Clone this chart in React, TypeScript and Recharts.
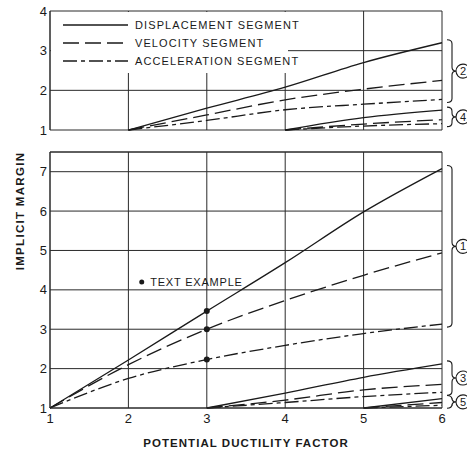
import React from "react";
import {
  LineChart,
  Line,
  XAxis,
  YAxis,
  CartesianGrid,
  Legend,
  ReferenceLine,
  ReferenceDot,
} from "recharts";

// potential ductility factor
const X = [1, 2, 3, 4, 5, 6];

// upper panel, group 2
const DISP_2 = [null, 1, 1.55, 2.08, 2.7, 3.2];
const VEL_2 = [null, 1, 1.38, 1.76, 2.03, 2.25];
const ACC_2 = [null, 1, 1.24, 1.51, 1.65, 1.77];
// upper panel, group 4
const DISP_4 = [null, null, null, 1, 1.31, 1.5];
const VEL_4 = [null, null, null, 1, 1.15, 1.26];
const ACC_4 = [null, null, null, 1, 1.1, 1.16];

// lower panel, group 1
const DISP_1 = [1, 2.22, 3.46, 4.69, 5.98, 7.08];
const VEL_1 = [1, 2.1, 3.0, 3.73, 4.37, 4.94];
const ACC_1 = [1, 1.75, 2.23, 2.59, 2.89, 3.13];
// lower panel, group 3
const DISP_3 = [null, null, 1, 1.38, 1.78, 2.12];
const VEL_3 = [null, null, 1, 1.2, 1.46, 1.6];
const ACC_3 = [null, null, 1, 1.14, 1.29, 1.4];
// lower panel, group 5
const DISP_5 = [null, null, null, null, 1, 1.24];
const VEL_5 = [null, null, null, null, 1, 1.14];
const ACC_5 = [null, null, null, null, 1, 1.07];

const TOP_TICKS = [1, 2, 3, 4];
const BOTTOM_TICKS = [1, 2, 3, 4, 5, 6, 7];
const BOTTOM_MAX = 7.5;
const LEGEND_LABELS = ["DISPLACEMENT SEGMENT", "VELOCITY SEGMENT", "ACCELERATION SEGMENT"];
const EXAMPLE_LABEL = "TEXT EXAMPLE";
const EXAMPLE_POINT = { x: 2.17, y: 4.2 };

const INK = "#1a1a1a";
const GRID = "#2a2a2a";
const DASHES = [undefined, "16 6", "14 4 4 4"];
const TICK_FONT = "'Liberation Sans Narrow', 'Liberation Sans', Arial, sans-serif";
const LABEL_FONT = "'Liberation Sans', Arial, sans-serif";

const topData = X.map((x, i) => ({
  x,
  d2: DISP_2[i], v2: VEL_2[i], a2: ACC_2[i],
  d4: DISP_4[i], v4: VEL_4[i], a4: ACC_4[i],
}));

const bottomData = X.map((x, i) => ({
  x,
  d1: DISP_1[i], v1: VEL_1[i], a1: ACC_1[i],
  d3: DISP_3[i], v3: VEL_3[i], a3: ACC_3[i],
  d5: DISP_5[i], v5: VEL_5[i], a5: ACC_5[i],
}));

const tick = { fill: INK, fontSize: 13, fontFamily: TICK_FONT };

function series(keys: string[]) {
  return keys.map((k, i) => (
    <Line
      key={k}
      dataKey={k}
      type="monotone"
      stroke={INK}
      strokeWidth={1.3}
      strokeDasharray={DASHES[i % 3]}
      dot={false}
      activeDot={false}
      connectNulls={false}
      isAnimationActive={false}
    />
  ));
}

// curly brace to the right of the plot with a circled group number
function brace(num: number) {
  return (props: any) => {
    const x = props.x1 + 5;
    const top = Math.min(props.y1, props.y2) - 3;
    const bot = Math.max(props.y1, props.y2) + 3;
    const mid = (top + bot) / 2;
    const d = `M${x},${top} Q${x + 5},${top} ${x + 5},${top + 4} L${x + 5},${mid - 4} Q${x + 5},${mid} ${x + 9},${mid} Q${x + 5},${mid} ${x + 5},${mid + 4} L${x + 5},${bot - 4} Q${x + 5},${bot} ${x},${bot}`;
    return (
      <g>
        <path d={d} fill="none" stroke={INK} strokeWidth={1.1} />
        <circle cx={x + 16} cy={mid} r={7} fill="#fff" stroke={INK} strokeWidth={1.1} />
        <text x={x + 16} y={mid + 4} textAnchor="middle" fontSize={11} fontFamily={LABEL_FONT} fill={INK}>
          {num}
        </text>
      </g>
    );
  };
}

function LegendBox() {
  return (
    <div style={{ width: 237, height: 61, background: "#fff" }}>
      <svg width={237} height={61} style={{ overflow: "visible" }}>
        {LEGEND_LABELS.map((label, i) => {
          const y = 13 + i * 18;
          return (
            <g key={label}>
              <line x1={12} x2={77} y1={y} y2={y} stroke={INK} strokeWidth={1.3} strokeDasharray={DASHES[i]} />
              <text x={84} y={y + 4} fontSize={11} letterSpacing={1.1} fontFamily={LABEL_FONT} fill={INK}>
                {label}
              </text>
            </g>
          );
        })}
      </svg>
    </div>
  );
}

export default function App() {
  return (
    <div style={{ position: "absolute", left: 0, top: 0, width: 467, height: 454, background: "#fff" }}>
      <div style={{ position: "absolute", left: 0, top: 0 }}>
        <LineChart width={467} height={140} data={topData} margin={{ top: 11, right: 25, bottom: 10, left: 10 }}>
          <CartesianGrid stroke={GRID} strokeWidth={1} />
          <XAxis dataKey="x" type="number" domain={[1, 6]} ticks={X} hide />
          <YAxis
            type="number"
            domain={[1, 4]}
            ticks={TOP_TICKS}
            width={40}
            tick={tick}
            tickLine={false}
            tickSize={2}
            tickMargin={1}
            axisLine={{ stroke: GRID }}
          />
          {series(["d2", "v2", "a2"])}
          {series(["d4", "v4", "a4"])}
          <ReferenceLine segment={[{ x: 6, y: DISP_2[5] }, { x: 6, y: ACC_2[5] }]} shape={brace(2)} />
          <ReferenceLine segment={[{ x: 6, y: DISP_4[5] }, { x: 6, y: ACC_4[5] }]} shape={brace(4)} />
          <Legend
            layout="vertical"
            align="center"
            verticalAlign="middle"
            content={() => <LegendBox />}
            wrapperStyle={{ position: "absolute", left: 51, top: 12, width: 237, height: 61 }}
          />
        </LineChart>
      </div>
      <div style={{ position: "absolute", left: 0, top: 140 }}>
        <LineChart width={467} height={314} data={bottomData} margin={{ top: 12, right: 25, bottom: 0, left: 10 }}>
          <CartesianGrid stroke={GRID} strokeWidth={1} />
          <XAxis
            dataKey="x"
            type="number"
            domain={[1, 6]}
            ticks={X}
            height={46}
            tick={tick}
            tickLine={false}
            tickSize={4}
            tickMargin={2}
            axisLine={{ stroke: GRID }}
            label={{
              value: "POTENTIAL DUCTILITY FACTOR",
              position: "insideBottom",
              offset: 7,
              fill: INK,
              fontSize: 11.5,
              fontWeight: "bold",
              letterSpacing: 1.05,
              fontFamily: LABEL_FONT,
            }}
          />
          <YAxis
            type="number"
            domain={[1, BOTTOM_MAX]}
            ticks={BOTTOM_TICKS}
            width={40}
            tick={tick}
            tickLine={false}
            tickSize={2}
            tickMargin={1}
            axisLine={{ stroke: GRID }}
          />
          <ReferenceLine y={BOTTOM_MAX} stroke={GRID} />
          {series(["d1", "v1", "a1"])}
          {series(["d3", "v3", "a3"])}
          {series(["d5", "v5", "a5"])}
          <ReferenceDot x={3} y={DISP_1[2]} r={3} fill={INK} stroke="none" />
          <ReferenceDot x={3} y={VEL_1[2]} r={3} fill={INK} stroke="none" />
          <ReferenceDot x={3} y={ACC_1[2]} r={3} fill={INK} stroke="none" />
          <ReferenceDot
            x={EXAMPLE_POINT.x}
            y={EXAMPLE_POINT.y}
            r={2.5}
            fill={INK}
            stroke="none"
            label={{ value: EXAMPLE_LABEL, position: "right", offset: 6, fill: INK, fontSize: 11, letterSpacing: 0.8, fontFamily: LABEL_FONT }}
          />
          <ReferenceLine segment={[{ x: 6, y: DISP_1[5] }, { x: 6, y: ACC_1[5] }]} shape={brace(1)} />
          <ReferenceLine segment={[{ x: 6, y: DISP_3[5] }, { x: 6, y: ACC_3[5] }]} shape={brace(3)} />
          <ReferenceLine segment={[{ x: 6, y: DISP_5[5] }, { x: 6, y: ACC_5[5] }]} shape={brace(5)} />
        </LineChart>
      </div>
      <svg width={40} height={454} style={{ position: "absolute", left: 0, top: 0 }}>
        <text
          transform="translate(24,211) rotate(-90)"
          textAnchor="middle"
          fontSize={11.5}
          fontWeight="bold"
          letterSpacing={1.3}
          fontFamily={LABEL_FONT}
          fill={INK}
        >
          IMPLICIT MARGIN
        </text>
      </svg>
    </div>
  );
}
